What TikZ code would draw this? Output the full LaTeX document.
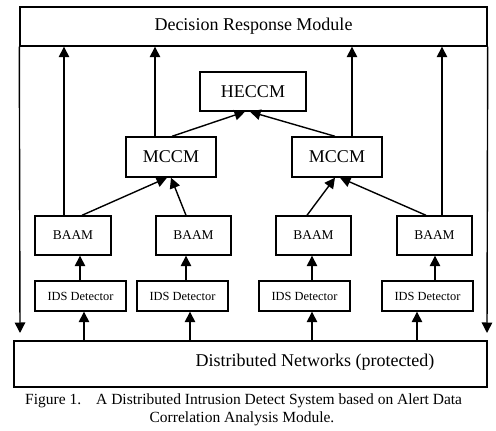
\documentclass[tikz,border=0pt]{standalone}
\usepackage{fontspec}
\setmainfont{Liberation Serif}
\usetikzlibrary{arrows.meta}
\tikzset{
  box/.style={draw, line width=1.4pt, inner sep=0pt, minimum width=#1},
  arr/.style={line width=1.4pt, -{Triangle[width=10.5pt,length=10.5pt]}},
  big/.style={font=\fontsize{18}{20}\selectfont},
  mid/.style={font=\fontsize{13.4}{15}\selectfont},
  small/.style={font=\fontsize{12.4}{14}\selectfont},
  captext/.style={font=\fontsize{15.5}{17}\selectfont, inner sep=0pt},
}
\begin{document}
\begin{tikzpicture}[x=1pt,y=-1pt]
\useasboundingbox (0,0) rectangle (496,431);
% top and bottom modules
\node[box=467pt, minimum height=39pt, big] (drm) at (253.5,26.5) {Decision Response Module};
\node[box=473pt, minimum height=46pt] (net) at (250.5,364) {};
\node[big, inner sep=0pt] (nettext) at (315,362) {Distributed Networks (protected)};
% HECCM and MCCM
\node[box=106pt, minimum height=39pt, big] (heccm) at (253,91.5) {HECCM};
\node[box=90pt, minimum height=40pt, big] (mccm1) at (171,157) {MCCM};
\node[box=90pt, minimum height=40pt, big] (mccm2) at (337,157) {MCCM};
% BAAM
\node[box=76pt, minimum height=39pt, mid] (baam1) at (73,235.5) {BAAM};
\node[box=75pt, minimum height=39pt, mid] (baam2) at (193.5,235.5) {BAAM};
\node[box=75pt, minimum height=39pt, mid] (baam3) at (313.5,235.5) {BAAM};
\node[box=75pt, minimum height=39pt, mid] (baam4) at (434.5,235.5) {BAAM};
% IDS detectors
\node[box=91pt, minimum height=30pt, small] (ids1) at (80.5,296) {IDS Detector};
\node[box=91pt, minimum height=30pt, small] (ids2) at (182.5,296) {IDS Detector};
\node[box=91pt, minimum height=30pt, small] (ids3) at (304.5,296) {IDS Detector};
\node[box=91pt, minimum height=30pt, small] (ids4) at (427.5,296) {IDS Detector};
% side arrows down to networks
\coordinate (ldown) at (20,333);
\coordinate (rdown) at (487,333);
\draw[arr] (drm.south west) -- (ldown);
\draw[arr] (drm.south east) -- (rdown);
% up arrows to decision response module
\draw[arr] (baam1.north -| 64,0) -- (drm.south -| 64,0);
\draw[arr] (mccm1.north -| 155,0) -- (drm.south -| 155,0);
\draw[arr] (mccm2.north -| 352,0) -- (drm.south -| 352,0);
\draw[arr] (baam4.north -| 442,0) -- (drm.south -| 442,0);
% MCCM to HECCM
\draw[arr] (mccm1.north -| 172,0) -- (heccm.south -| 245,0);
\draw[arr] (mccm2.north -| 335,0) -- (heccm.south -| 250,0);
% BAAM to MCCM
\draw[arr] (baam1.north -| 82,0) -- (mccm1.south -| 167,0);
\draw[arr] (baam2.north -| 186,0) -- (mccm1.south -| 171,0);
\draw[arr] (baam3.north -| 307,0) -- (mccm2.south -| 335,0);
\draw[arr] (baam4.north -| 426,0) -- (mccm2.south -| 340,0);
% IDS to BAAM
\draw[arr] (ids1.north -| 80,0) -- (baam1.south -| 80,0);
\draw[arr] (ids2.north -| 186,0) -- (baam2.south -| 186,0);
\draw[arr] (ids3.north -| 312,0) -- (baam3.south -| 312,0);
\draw[arr] (ids4.north -| 435,0) -- (baam4.south -| 435,0);
% networks to IDS
\draw[arr] (net.north -| 84,0) -- (ids1.south -| 84,0);
\draw[arr] (net.north -| 190,0) -- (ids2.south -| 190,0);
\draw[arr] (net.north -| 312,0) -- (ids3.south -| 312,0);
\draw[arr] (net.north -| 417,0) -- (ids4.south -| 417,0);
% caption
\node[captext, anchor=base west] (figno) at (25,404) {Figure 1.};
\node[captext, anchor=base west] (cap1) at (96,404) {A Distributed Intrusion Detect System based on Alert Data};
\node[captext, anchor=base] (cap2) at (242,422) {Correlation Analysis Module.};
\end{tikzpicture}
\end{document}
